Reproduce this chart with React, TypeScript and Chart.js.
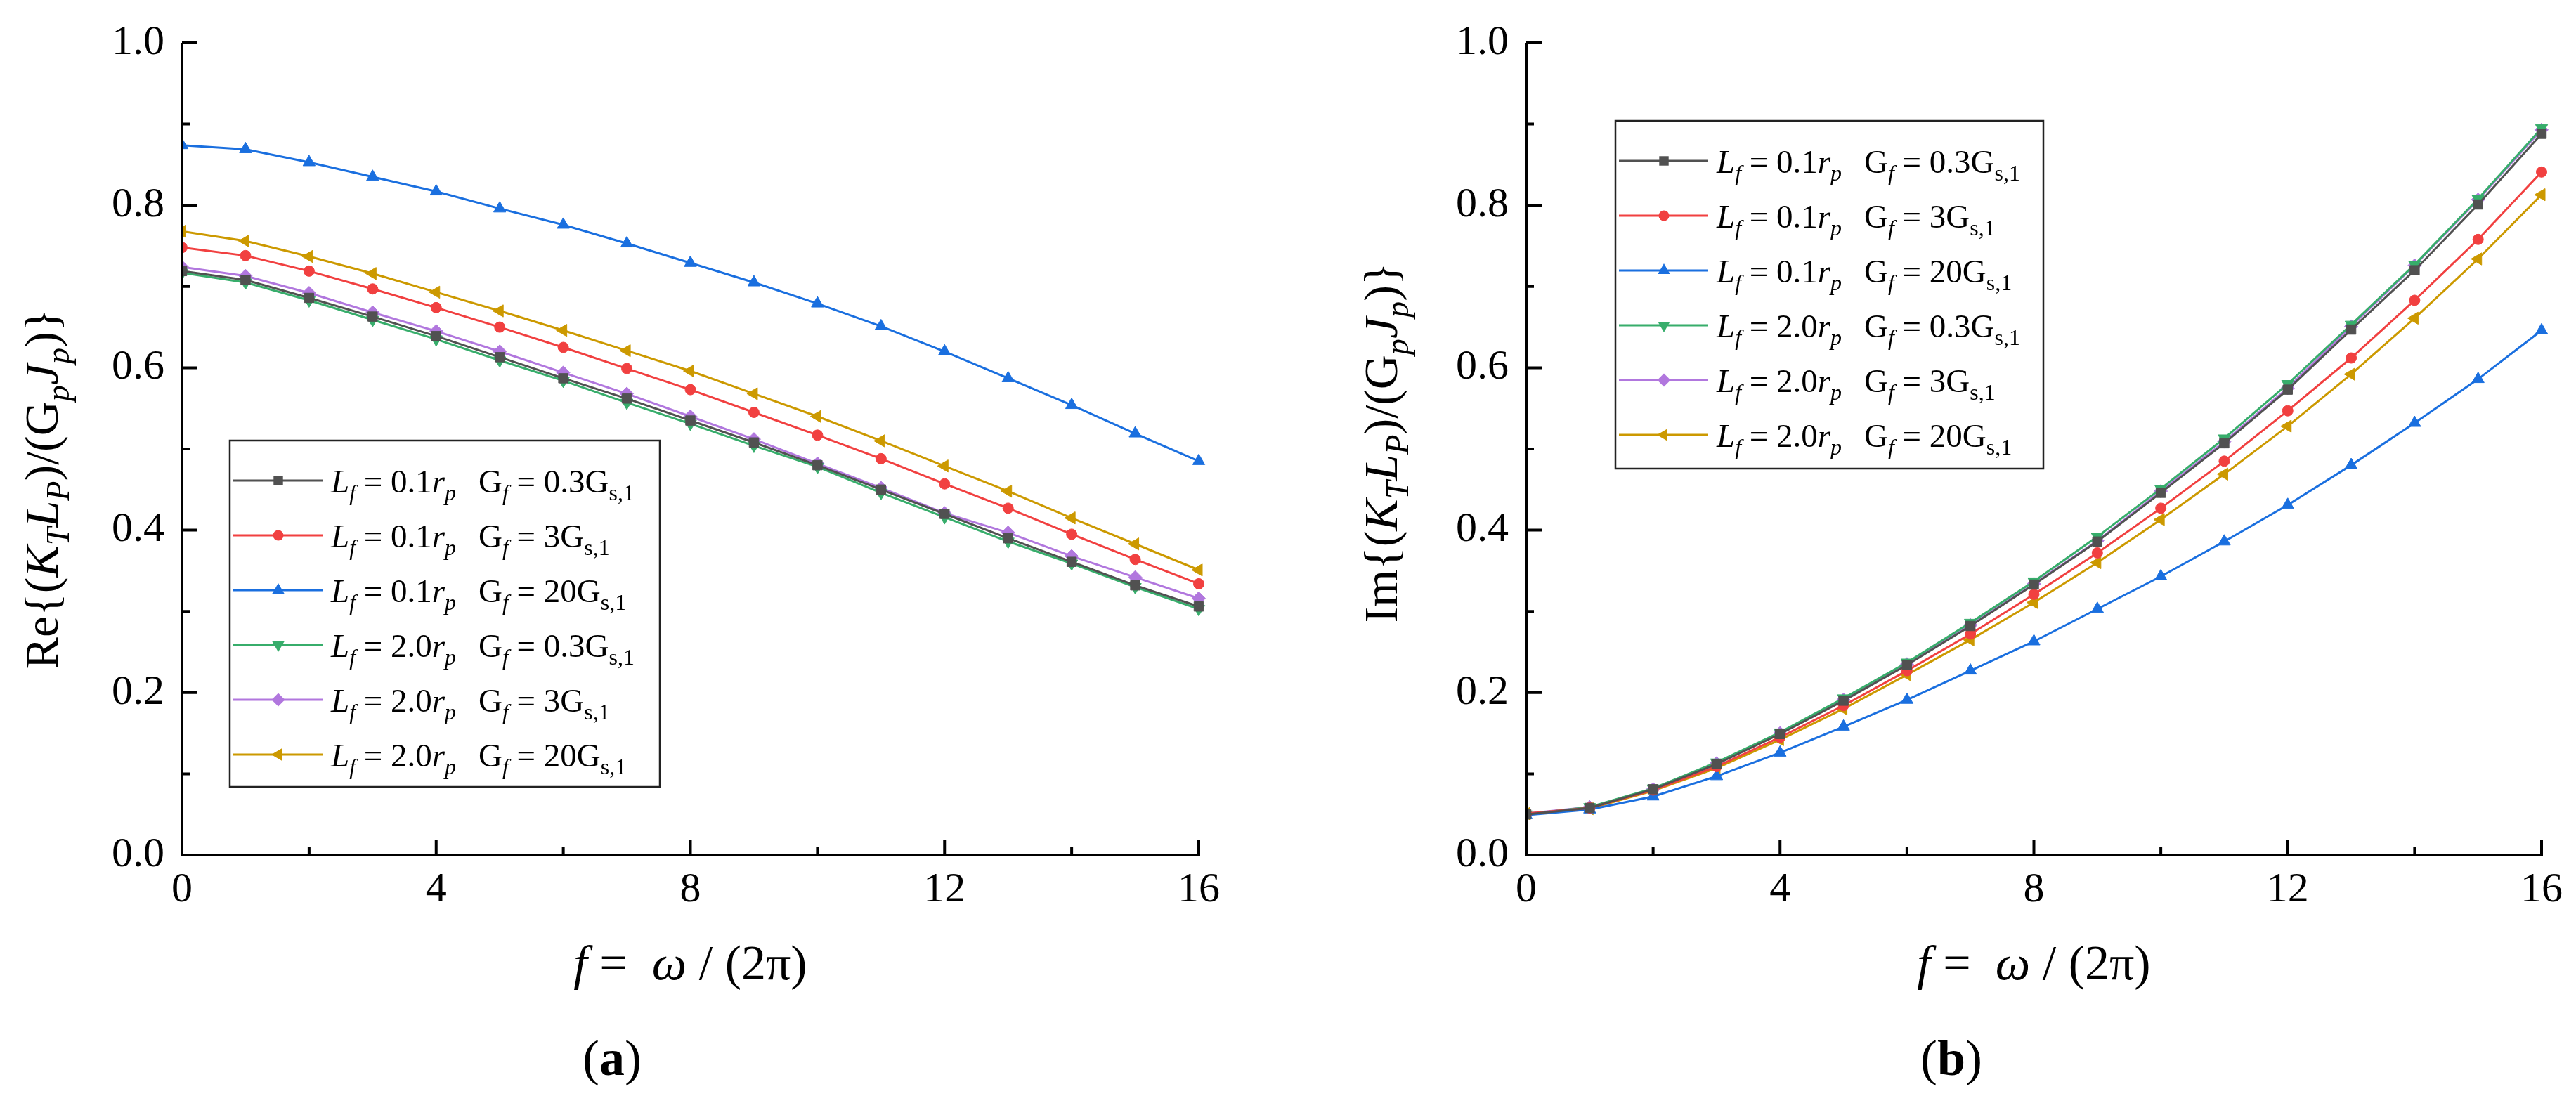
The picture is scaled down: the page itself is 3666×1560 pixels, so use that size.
import React, { useEffect, useRef } from 'react';
import { Chart, registerables } from 'chart.js';

Chart.register(...registerables);

// ---------------- data ----------------
const FREQ = [0, 1, 2, 3, 4, 5, 6, 7, 8, 9, 10, 11, 12, 13, 14, 15, 16];
const X_TICKS = [0, 4, 8, 12, 16];
const X_MINOR = [2, 6, 10, 14];
const Y_TICKS = [0, 0.2, 0.4, 0.6, 0.8, 1.0];
const Y_MINOR = [0.1, 0.3, 0.5, 0.7, 0.9];

const LF_VALUES = ['0.1', '0.1', '0.1', '2.0', '2.0', '2.0'];
const GF_VALUES = ['0.3', '3', '20', '0.3', '3', '20'];

const COLORS = ['#515151', '#F14040', '#1A6FDF', '#37AD6B', '#B177DE', '#CC9900'];
const POINT_STYLES = ['rect', 'circle', 'triangle', 'triangle', 'rectRot', 'triangle'];
const POINT_ROT = [0, 0, 0, 180, 0, 270];
const POINT_R = [9.5, 7.5, 10, 10, 9.5, 10];

// Re{(K_T L_P)/(G_p J_p)}
const RE_L01_G03 = [0.719, 0.708, 0.686, 0.663, 0.639, 0.613, 0.587, 0.562, 0.535, 0.508, 0.480, 0.450, 0.420, 0.390, 0.361, 0.332, 0.306];
const RE_L01_G3 = [0.748, 0.738, 0.719, 0.697, 0.674, 0.650, 0.625, 0.599, 0.573, 0.545, 0.517, 0.488, 0.457, 0.427, 0.395, 0.364, 0.334];
const RE_L01_G20 = [0.874, 0.869, 0.853, 0.835, 0.817, 0.796, 0.776, 0.753, 0.729, 0.705, 0.679, 0.651, 0.620, 0.587, 0.554, 0.519, 0.485];
const RE_L20_G03 = [0.717, 0.705, 0.683, 0.659, 0.635, 0.609, 0.584, 0.557, 0.531, 0.504, 0.478, 0.446, 0.416, 0.386, 0.359, 0.330, 0.303];
const RE_L20_G3 = [0.724, 0.713, 0.692, 0.668, 0.645, 0.620, 0.594, 0.568, 0.540, 0.512, 0.482, 0.452, 0.421, 0.397, 0.368, 0.342, 0.316];
const RE_L20_G20 = [0.768, 0.756, 0.737, 0.716, 0.693, 0.670, 0.646, 0.621, 0.596, 0.568, 0.540, 0.510, 0.479, 0.448, 0.415, 0.383, 0.351];

// Im{(K_T L_P)/(G_p J_p)}
const IM_L01_G03 = [0.050, 0.058, 0.081, 0.112, 0.149, 0.190, 0.234, 0.282, 0.333, 0.386, 0.446, 0.507, 0.573, 0.647, 0.720, 0.801, 0.888];
const IM_L01_G3 = [0.051, 0.058, 0.080, 0.109, 0.145, 0.184, 0.227, 0.272, 0.321, 0.372, 0.427, 0.485, 0.547, 0.612, 0.683, 0.758, 0.841];
const IM_L01_G20 = [0.049, 0.056, 0.072, 0.097, 0.126, 0.158, 0.191, 0.227, 0.263, 0.303, 0.343, 0.386, 0.431, 0.480, 0.532, 0.586, 0.646];
const IM_L20_G03 = [0.050, 0.059, 0.082, 0.114, 0.151, 0.193, 0.237, 0.286, 0.337, 0.392, 0.451, 0.513, 0.580, 0.653, 0.727, 0.808, 0.895];
const IM_L20_G3 = [0.051, 0.059, 0.081, 0.113, 0.150, 0.191, 0.235, 0.283, 0.334, 0.387, 0.448, 0.509, 0.575, 0.651, 0.726, 0.807, 0.893];
const IM_L20_G20 = [0.051, 0.057, 0.079, 0.107, 0.142, 0.180, 0.222, 0.265, 0.311, 0.360, 0.413, 0.469, 0.528, 0.592, 0.661, 0.734, 0.813];

// ---------------- rich text helpers ----------------
type Seg = { t: string; i?: boolean; b?: boolean; sub?: boolean };
const FAMILY = '"Liberation Serif", "Times New Roman", serif';

function segFont(s: Seg, size: number) {
  const sz = s.sub ? size * 0.68 : size;
  return `${s.i ? 'italic ' : ''}${s.b ? 'bold ' : ''}${sz}px ${FAMILY}`;
}
function measureRich(ctx: CanvasRenderingContext2D, segs: Seg[], size: number) {
  let w = 0;
  for (const s of segs) {
    ctx.font = segFont(s, size);
    w += ctx.measureText(s.t).width;
  }
  return w;
}
function drawRich(ctx: CanvasRenderingContext2D, segs: Seg[], x: number, y: number, size: number, align: 'left' | 'center') {
  const w = measureRich(ctx, segs, size);
  let cx = align === 'center' ? x - w / 2 : x;
  ctx.textAlign = 'left';
  ctx.textBaseline = 'alphabetic';
  ctx.fillStyle = '#000';
  for (const s of segs) {
    ctx.font = segFont(s, size);
    ctx.fillText(s.t, cx, y + (s.sub ? size * 0.24 : 0));
    cx += ctx.measureText(s.t).width;
  }
}

function drawMarker(ctx: CanvasRenderingContext2D, style: string, x: number, y: number, r: number, rotDeg: number, color: string) {
  ctx.fillStyle = color;
  ctx.beginPath();
  if (style === 'circle') {
    ctx.arc(x, y, r, 0, Math.PI * 2);
  } else if (style === 'rect') {
    const h = r * Math.SQRT1_2;
    ctx.rect(x - h, y - h, 2 * h, 2 * h);
  } else if (style === 'rectRot') {
    ctx.moveTo(x, y - r);
    ctx.lineTo(x + r, y);
    ctx.lineTo(x, y + r);
    ctx.lineTo(x - r, y);
    ctx.closePath();
  } else {
    let a = (rotDeg * Math.PI) / 180;
    for (let k = 0; k < 3; k++) {
      const px = x + Math.sin(a) * r;
      const py = y - Math.cos(a) * r;
      if (k === 0) ctx.moveTo(px, py);
      else ctx.lineTo(px, py);
      a += (2 * Math.PI) / 3;
    }
    ctx.closePath();
  }
  ctx.fill();
}

// ---------------- panels ----------------
type PanelCfg = {
  series: number[][];
  yTitle: Seg[];
  yTitleX: number;
  yTitleY: number;
  label: Seg[];
  labelX: number;
  legX: number;
  legY: number;
  legW: number;
  legH: number;
  axisLeft: number;
  padRight: number;
};

const TITLE_TAIL: Seg[] = [
  { t: '{(' },
  { t: 'K', i: true },
  { t: 'T', i: true, sub: true },
  { t: 'L', i: true },
  { t: 'P', i: true, sub: true },
  { t: ')/(G' },
  { t: 'p', i: true, sub: true },
  { t: 'J', i: true },
  { t: 'p', i: true, sub: true },
  { t: ')}' },
];

const X_TITLE: Seg[] = [{ t: 'f', i: true }, { t: ' =  ' }, { t: 'ω', i: true }, { t: ' / (2π)' }];

const PANEL_A: PanelCfg = {
  series: [RE_L01_G03, RE_L01_G3, RE_L01_G20, RE_L20_G03, RE_L20_G3, RE_L20_G20],
  yTitle: [{ t: 'Re' }, ...TITLE_TAIL],
  yTitleX: 82,
  yTitleY: 696,
  label: [{ t: '(' }, { t: 'a', b: true }, { t: ')' }],
  labelX: 871,
  legX: 327,
  legY: 627,
  legW: 612,
  legH: 493,
  axisLeft: 259,
  padRight: 127,
};

const PANEL_B: PanelCfg = {
  series: [IM_L01_G03, IM_L01_G3, IM_L01_G20, IM_L20_G03, IM_L20_G3, IM_L20_G20],
  yTitle: [{ t: 'Im' }, ...TITLE_TAIL],
  yTitleX: 155,
  yTitleY: 630,
  label: [{ t: '(' }, { t: 'b', b: true }, { t: ')' }],
  labelX: 944,
  legX: 466,
  legY: 172,
  legW: 609,
  legH: 495,
  axisLeft: 339,
  padRight: 49,
};

function decorPlugin(p: PanelCfg) {
  return {
    id: 'decor',
    afterDraw(chart: any) {
      const ctx: CanvasRenderingContext2D = chart.ctx;
      const { left, right, top, bottom } = chart.chartArea;
      const xs = chart.scales.x;
      const ys = chart.scales.y;
      ctx.save();
      // axes
      ctx.strokeStyle = '#000';
      ctx.lineWidth = 4;
      ctx.lineCap = 'butt';
      ctx.beginPath();
      ctx.moveTo(left, top);
      ctx.lineTo(left, bottom + 2);
      ctx.moveTo(left - 2, bottom);
      ctx.lineTo(right + 2, bottom);
      // ticks (inward)
      for (const v of X_TICKS) {
        const px = xs.getPixelForValue(v);
        ctx.moveTo(px, bottom);
        ctx.lineTo(px, bottom - 22);
      }
      for (const v of X_MINOR) {
        const px = xs.getPixelForValue(v);
        ctx.moveTo(px, bottom);
        ctx.lineTo(px, bottom - 11);
      }
      for (const v of Y_TICKS) {
        const py = ys.getPixelForValue(v);
        ctx.moveTo(left, py);
        ctx.lineTo(left + 22, py);
      }
      for (const v of Y_MINOR) {
        const py = ys.getPixelForValue(v);
        ctx.moveTo(left, py);
        ctx.lineTo(left + 11, py);
      }
      ctx.stroke();

      // y title (rotated)
      ctx.save();
      ctx.translate(p.yTitleX, p.yTitleY);
      ctx.rotate(-Math.PI / 2);
      drawRich(ctx, p.yTitle, 0, 0, 68, 'center');
      ctx.restore();

      // x title
      drawRich(ctx, X_TITLE, (left + right) / 2, 1394, 70, 'center');

      // panel label
      drawRich(ctx, p.label, p.labelX, 1530, 72, 'center');

      // legend
      ctx.fillStyle = '#fff';
      ctx.fillRect(p.legX, p.legY, p.legW, p.legH);
      ctx.strokeStyle = '#222';
      ctx.lineWidth = 2.5;
      ctx.strokeRect(p.legX, p.legY, p.legW, p.legH);
      for (let i = 0; i < COLORS.length; i++) {
        const cy = p.legY + 57 + i * 78;
        ctx.strokeStyle = COLORS[i];
        ctx.lineWidth = 3;
        ctx.beginPath();
        ctx.moveTo(p.legX + 5, cy);
        ctx.lineTo(p.legX + 132, cy);
        ctx.stroke();
        drawMarker(ctx, POINT_STYLES[i], p.legX + 69, cy, POINT_R[i], POINT_ROT[i], COLORS[i]);
        const lSegs: Seg[] = [
          { t: 'L', i: true },
          { t: 'f', i: true, sub: true },
          { t: ' = ' + LF_VALUES[i] },
          { t: 'r', i: true },
          { t: 'p', i: true, sub: true },
        ];
        const gSegs: Seg[] = [
          { t: 'G' },
          { t: 'f', i: true, sub: true },
          { t: ' = ' + GF_VALUES[i] + 'G' },
          { t: 's,1', sub: true },
        ];
        drawRich(ctx, lSegs, p.legX + 144, cy + 17, 47, 'left');
        drawRich(ctx, gSegs, p.legX + 354, cy + 17, 47, 'left');
      }
      ctx.restore();
    },
  };
}

function Panel({ cfg }: { cfg: PanelCfg }) {
  const ref = useRef<HTMLCanvasElement>(null);
  useEffect(() => {
    const tickFont = { family: FAMILY, size: 60 };
    const chart = new Chart(ref.current as HTMLCanvasElement, {
      type: 'line',
      data: {
        datasets: cfg.series.map((vals, i) => ({
          label: `${LF_VALUES[i]} ${GF_VALUES[i]}`,
          data: FREQ.map((f, j) => ({ x: f, y: vals[j] })),
          borderColor: COLORS[i],
          backgroundColor: COLORS[i],
          borderWidth: 3,
          pointStyle: POINT_STYLES[i] as any,
          pointRotation: POINT_ROT[i],
          pointRadius: POINT_R[i],
          pointBorderWidth: 1,
          pointBackgroundColor: COLORS[i],
          pointBorderColor: COLORS[i],
          tension: 0,
          fill: false,
          clip: { left: 0, top: 20, right: 20, bottom: 0 } as any,
        })),
      },
      options: {
        animation: false,
        responsive: true,
        maintainAspectRatio: false,
        events: [],
        layout: { padding: { top: 53, right: cfg.padRight, left: 0, bottom: 0 } },
        plugins: { legend: { display: false }, tooltip: { enabled: false }, title: { display: false } },
        scales: {
          x: {
            type: 'linear',
            min: 0,
            max: 16,
            ticks: { stepSize: 4, font: tickFont, color: '#000', padding: 14, maxRotation: 0 },
            grid: { display: false, drawTicks: false },
            border: { display: false },
            afterFit: (s: any) => {
              s.height = 343;
            },
          },
          y: {
            type: 'linear',
            min: 0,
            max: 1,
            ticks: {
              stepSize: 0.2,
              font: tickFont,
              color: '#000',
              padding: 25,
              callback: (v: any) => Number(v).toFixed(1),
            },
            grid: { display: false, drawTicks: false },
            border: { display: false },
            afterFit: (s: any) => {
              s.width = cfg.axisLeft;
            },
          },
        },
      },
      plugins: [decorPlugin(cfg)],
    } as any);
    return () => chart.destroy();
  }, [cfg]);
  return (
    <div style={{ position: 'relative', width: 1833, height: 1560 }}>
      <canvas ref={ref} />
    </div>
  );
}

export default function App() {
  useEffect(() => {
    document.body.style.margin = '0';
    document.body.style.overflow = 'hidden';
    document.body.style.background = '#fff';
  }, []);
  return (
    <div style={{ display: 'flex', width: 3666, height: 1560, background: '#fff' }}>
      <Panel cfg={PANEL_A} />
      <Panel cfg={PANEL_B} />
    </div>
  );
}
